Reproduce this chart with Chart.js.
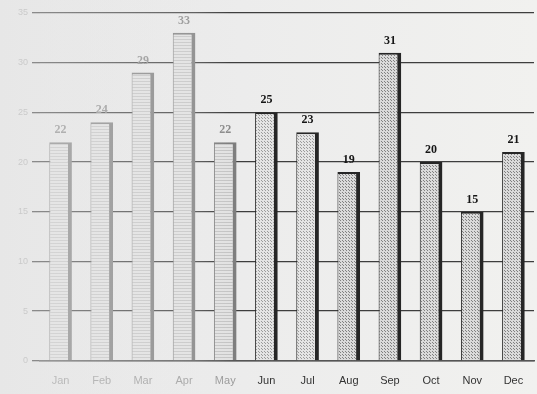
<!DOCTYPE html>
<html>
<head>
<meta charset="utf-8">
<script src="https://cdn.jsdelivr.net/npm/chart.js@4"></script>
<style>
html,body{margin:0;padding:0;background:#ececec;}
canvas{display:block;}
</style>
</head>
<body>
<canvas id="c" width="537" height="394"></canvas>
<script>
const months = ["Jan","Feb","Mar","Apr","May","Jun","Jul","Aug","Sep","Oct","Nov","Dec"];
const values = [22,24,29,33,22,25,23,19,31,20,15,21];
const yTicks = [0,5,10,15,20,25,30,35];

function makePattern(bg, dot, step, lines){
  const p = document.createElement('canvas');
  p.width = step; p.height = step;
  const g = p.getContext('2d');
  g.fillStyle = bg; g.fillRect(0,0,step,step);
  g.fillStyle = dot;
  if(lines){ g.fillRect(0,0,step,1); }
  else { g.fillRect(0,0,1,1); g.fillRect(Math.floor(step/2),Math.floor(step/2),1,1); }
  return g.createPattern(p,'repeat');
}
const ctx = document.getElementById('c').getContext('2d');
const pLines = makePattern('#e2e2e2','#c4c4c4',3,true);
const pDots = makePattern('#e4e4e4','#9a9a9a',3,false);
const pDense = makePattern('#dadada','#808080',3,false);
const fills = months.map((m,i)=> i<5 ? pLines : (i<7 ? pDots : pDense));
const borders = months.map((m,i)=> i<5 ? '#7e7e7e' : '#262626');

const bgPlugin = {
  id:'bg',
  beforeDraw(chart){
    const c = chart.ctx;
    const gr = c.createLinearGradient(0,0,537,0);
    gr.addColorStop(0,'#e6e6e6');
    gr.addColorStop(0.45,'#ececec');
    gr.addColorStop(1,'#f1f1ef');
    c.save(); c.fillStyle = gr; c.fillRect(0,0,537,394); c.restore();
  }
};
const labelPlugin = {
  id:'vals',
  afterDatasetsDraw(chart){
    const c = chart.ctx;
    const meta = chart.getDatasetMeta(0);
    c.save();
    c.font = 'bold 12px "Liberation Serif", "Times New Roman", serif';
    c.textAlign = 'center';
    c.textBaseline = 'bottom';
    meta.data.forEach((bar,i)=>{
      c.fillStyle = i<5 ? '#8a8a8a' : '#161616';
      c.fillText(String(values[i]), bar.x, bar.y - 6);
    });
    c.restore();
  }
};
const fadePlugin = {
  id:'fade',
  afterDraw(chart){
    const c = chart.ctx;
    const gr = c.createLinearGradient(0,0,230,0);
    gr.addColorStop(0,'rgba(232,232,232,0.5)');
    gr.addColorStop(0.85,'rgba(236,236,236,0.2)');
    gr.addColorStop(1,'rgba(236,236,236,0)');
    c.save(); c.fillStyle = gr; c.fillRect(0,0,230,394); c.restore();
  }
};

new Chart(ctx,{
  type:'bar',
  data:{
    labels: months,
    datasets:[{
      data: values,
      backgroundColor: fills,
      borderColor: borders,
      borderWidth: {left:1, right:4, top:2, bottom:0},
      borderSkipped: false,
      barPercentage: 0.55,
      categoryPercentage: 1
    }]
  },
  options:{
    responsive:false,
    devicePixelRatio:1,
    animation:false,
    layout:{padding:{top:13,right:3,left:0,bottom:0}},
    plugins:{legend:{display:false},tooltip:{enabled:false}},
    scales:{
      x:{
        grid:{display:false},
        border:{color:'#555',width:1.5},
        ticks:{
          font:{family:'"Liberation Sans", Arial, sans-serif', size:11},
          color:(ctx)=> ctx.index<5 ? '#9a9a9a' : '#333',
          padding:6
        }
      },
      y:{
        min:0,max:35,
        afterFit(s){ s.width = 40; },
        afterBuildTicks(s){ s.ticks = yTicks.map(v=>({value:v})); },
        grid:{color:'#3e3e3e',lineWidth:1.3,tickLength:8},
        border:{display:false},
        ticks:{
          font:{family:'"Liberation Sans", Arial, sans-serif', size:9},
          color:'#b0b0b0',
          padding:4
        }
      }
    }
  },
  plugins:[bgPlugin,labelPlugin,fadePlugin]
});
</script>
</body>
</html>
